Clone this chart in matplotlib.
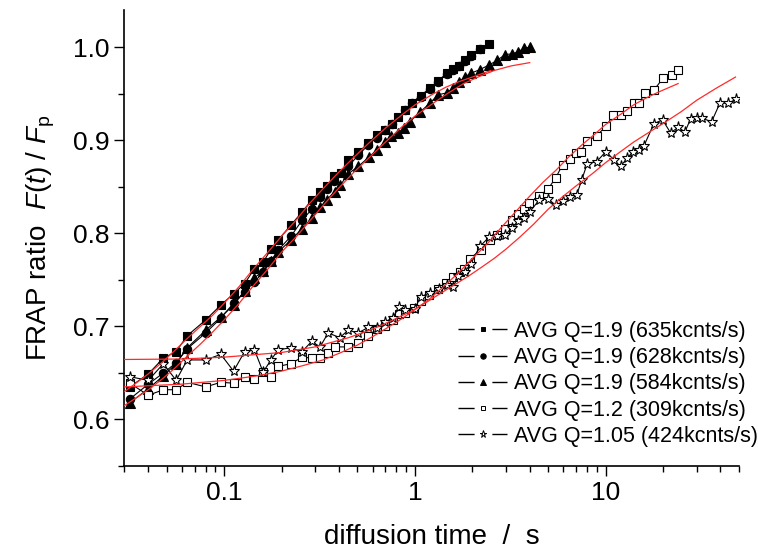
import matplotlib
matplotlib.use("Agg")
import matplotlib.pyplot as plt
from matplotlib.lines import Line2D
from matplotlib.ticker import FixedLocator, FixedFormatter, LogLocator, NullFormatter, MultipleLocator, FormatStrFormatter

plt.rcParams["font.family"] = ["Liberation Sans", "DejaVu Sans"]
plt.rcParams["mathtext.fontset"] = "custom"
plt.rcParams["mathtext.rm"] = "Liberation Sans"
plt.rcParams["mathtext.it"] = "Liberation Sans:italic"

# --- measured curves (diffusion time in s, FRAP ratio) ---
t_sq = [0.032, 0.040, 0.048, 0.056, 0.064, 0.080, 0.096, 0.112, 0.128, 0.144, 0.160, 0.176, 0.192,
        0.224, 0.256, 0.288, 0.318, 0.347, 0.376, 0.412, 0.447, 0.505, 0.569, 0.630, 0.696, 0.763,
        0.817, 0.886, 0.960, 1.071, 1.198, 1.325, 1.466, 1.588, 1.707, 1.829, 1.960, 2.192, 2.453]
f_sq = [0.635, 0.649, 0.666, 0.673, 0.690, 0.707, 0.723, 0.735, 0.746, 0.762, 0.769, 0.783, 0.793,
        0.809, 0.823, 0.836, 0.844, 0.851, 0.862, 0.865, 0.879, 0.887, 0.897, 0.906, 0.911, 0.918,
        0.925, 0.933, 0.940, 0.948, 0.956, 0.964, 0.972, 0.977, 0.980, 0.986, 0.992, 0.998, 1.004]

t_ci = [0.032, 0.040, 0.048, 0.056, 0.064, 0.080, 0.096, 0.112, 0.128, 0.144, 0.160, 0.176, 0.192,
        0.224, 0.256, 0.288, 0.318, 0.347, 0.376, 0.447, 0.505, 0.569, 0.630, 0.696, 0.763, 0.886,
        0.960, 1.071, 1.198, 1.325, 1.466, 1.588, 1.707, 1.829, 1.960, 2.192]
f_ci = [0.622, 0.638, 0.650, 0.661, 0.676, 0.693, 0.709, 0.725, 0.737, 0.748, 0.758, 0.770, 0.782,
        0.797, 0.814, 0.826, 0.839, 0.848, 0.856, 0.872, 0.884, 0.895, 0.903, 0.911, 0.918, 0.933,
        0.940, 0.947, 0.955, 0.963, 0.971, 0.976, 0.980, 0.985, 0.991, 0.998]

t_tr = [0.032, 0.040, 0.048, 0.056, 0.064, 0.080, 0.096, 0.112, 0.128, 0.144, 0.160, 0.176, 0.192,
        0.224, 0.256, 0.288, 0.318, 0.344, 0.381, 0.407, 0.447, 0.505, 0.574, 0.633, 0.696, 0.753,
        0.817, 0.877, 0.939, 1.060, 1.198, 1.325, 1.466, 1.588, 1.707, 1.829, 1.960, 2.190, 2.450,
        2.700, 2.965, 3.214, 3.480, 3.730, 4.010]
f_tr = [0.618, 0.633, 0.647, 0.660, 0.677, 0.696, 0.710, 0.723, 0.738, 0.752, 0.760, 0.770, 0.780,
        0.793, 0.805, 0.816, 0.828, 0.836, 0.845, 0.852, 0.864, 0.872, 0.882, 0.890, 0.898, 0.905,
        0.908, 0.913, 0.920, 0.930, 0.940, 0.949, 0.951, 0.956, 0.963, 0.968, 0.972, 0.976, 0.981,
        0.986, 0.992, 0.993, 0.995, 0.999, 1.000]

t_os = [0.032, 0.040, 0.048, 0.056, 0.064, 0.080, 0.096, 0.112, 0.128, 0.144, 0.160, 0.176, 0.192,
        0.224, 0.256, 0.288, 0.318, 0.351, 0.381, 0.447, 0.504, 0.569, 0.630, 0.696, 0.764, 0.828,
        0.886, 0.988, 1.071, 1.189, 1.325, 1.454, 1.588, 1.722, 1.807, 1.943, 2.211, 2.474, 2.682,
        2.965, 3.215, 3.481, 3.729, 3.976, 4.486, 5.000, 5.488, 5.951, 6.499, 6.987, 7.394, 8.009,
        8.971, 10.04, 10.96, 11.98, 12.98, 14.13, 15.01, 16.07, 17.92, 20.05, 22.19, 24.03]
f_os = [0.639, 0.626, 0.632, 0.632, 0.640, 0.635, 0.640, 0.639, 0.646, 0.644, 0.651, 0.646, 0.657,
        0.660, 0.667, 0.666, 0.666, 0.671, 0.678, 0.678, 0.682, 0.690, 0.697, 0.700, 0.707, 0.713,
        0.714, 0.720, 0.727, 0.734, 0.740, 0.747, 0.753, 0.759, 0.762, 0.773, 0.782, 0.793, 0.798,
        0.805, 0.814, 0.821, 0.826, 0.833, 0.840, 0.848, 0.860, 0.874, 0.880, 0.886, 0.888, 0.899,
        0.905, 0.915, 0.927, 0.927, 0.932, 0.940, 0.940, 0.951, 0.954, 0.967, 0.970, 0.976]

t_st = [0.032, 0.040, 0.048, 0.056, 0.064, 0.080, 0.096, 0.112, 0.128, 0.144, 0.160, 0.176, 0.192,
        0.224, 0.256, 0.288, 0.318, 0.351, 0.404, 0.447, 0.504, 0.569, 0.630, 0.696, 0.764, 0.828,
        0.886, 1.000, 1.071, 1.198, 1.340, 1.466, 1.588, 1.680, 1.829, 1.960, 2.190, 2.450, 2.700,
        2.965, 3.215, 3.481, 3.729, 4.000, 4.486, 5.000, 5.488, 6.006, 6.499, 7.046, 7.483, 8.009,
        8.971, 10.04, 11.05, 11.98, 12.98, 13.95, 15.01, 15.88, 17.92, 19.90, 21.92, 24.03, 26.05,
        27.90, 30.00, 31.87, 35.96, 39.75, 43.94, 48.24]
f_st = [0.646, 0.642, 0.660, 0.642, 0.664, 0.664, 0.670, 0.652, 0.673, 0.675, 0.651, 0.664, 0.675,
        0.677, 0.673, 0.684, 0.678, 0.693, 0.688, 0.696, 0.693, 0.699, 0.698, 0.705, 0.709, 0.721,
        0.718, 0.719, 0.732, 0.736, 0.740, 0.744, 0.742, 0.754, 0.759, 0.767, 0.786, 0.796, 0.797,
        0.798, 0.806, 0.813, 0.817, 0.823, 0.836, 0.837, 0.830, 0.835, 0.839, 0.841, 0.857, 0.875,
        0.877, 0.888, 0.879, 0.872, 0.881, 0.888, 0.890, 0.894, 0.918, 0.922, 0.908, 0.914, 0.909,
        0.923, 0.924, 0.924, 0.920, 0.940, 0.940, 0.944]

# --- fitted curves (red) ---
t_fit_a = [0.03, 0.035, 0.04, 0.047, 0.055, 0.064, 0.075, 0.087, 0.1, 0.12, 0.14, 0.17, 0.2, 0.24,
           0.28, 0.33, 0.4, 0.48, 0.58, 0.7, 0.85, 1.0, 1.25, 1.45, 1.7, 2.0, 2.5]
f_fit_a = [0.630, 0.640, 0.649, 0.661, 0.674, 0.687, 0.700, 0.712, 0.725, 0.743, 0.760, 0.780, 0.797,
           0.815, 0.832, 0.848, 0.866, 0.882, 0.898, 0.913, 0.927, 0.938, 0.950, 0.957, 0.963, 0.968,
           0.975]
t_fit_b = [0.03, 0.035, 0.04, 0.047, 0.055, 0.064, 0.075, 0.087, 0.1, 0.12, 0.14, 0.17, 0.2, 0.24,
           0.28, 0.33, 0.4, 0.48, 0.58, 0.7, 0.85, 1.0, 1.25, 1.5, 1.8, 2.2, 2.6, 3.2, 4.0]
f_fit_b = [0.615, 0.624, 0.632, 0.643, 0.655, 0.668, 0.681, 0.694, 0.707, 0.725, 0.742, 0.762, 0.780,
           0.797, 0.813, 0.830, 0.849, 0.866, 0.882, 0.898, 0.914, 0.926, 0.940, 0.951, 0.961, 0.969,
           0.975, 0.980, 0.9835]
t_fit_c = [0.03, 0.06, 0.1, 0.15, 0.2, 0.26, 0.33, 0.41, 0.5, 0.6, 0.71, 0.85, 1.0, 1.2, 1.4, 1.7,
           2.0, 2.4, 2.8, 3.4, 4.0, 4.7, 5.5, 6.4, 7.5, 8.7, 10, 12, 14, 16.5, 19, 24]
f_fit_c = [0.635, 0.638, 0.642, 0.647, 0.652, 0.658, 0.664, 0.672, 0.680, 0.689, 0.698, 0.708, 0.718,
           0.730, 0.742, 0.758, 0.773, 0.789, 0.805, 0.824, 0.840, 0.855, 0.868, 0.882, 0.895, 0.906,
           0.917, 0.928, 0.938, 0.946, 0.952, 0.961]
t_fit_d = [0.03, 0.06, 0.1, 0.2, 0.3, 0.45, 0.6, 0.75, 0.95, 1.15, 1.4, 1.65, 1.94, 2.25, 2.6, 3.0,
           3.55, 4.2, 5, 6, 7, 8.5, 10, 12, 14, 17, 20, 25, 30, 38, 48]
f_fit_d = [0.6645, 0.665, 0.667, 0.672, 0.678, 0.688, 0.697, 0.706, 0.716, 0.726, 0.737, 0.746, 0.755,
           0.764, 0.773, 0.783, 0.796, 0.810, 0.826, 0.840, 0.851, 0.864, 0.876, 0.888, 0.898, 0.909,
           0.918, 0.931, 0.943, 0.956, 0.968]

labels = ["AVG Q=1.9 (635kcnts/s)", "AVG Q=1.9 (628kcnts/s)", "AVG Q=1.9 (584kcnts/s)",
          "AVG Q=1.2 (309kcnts/s)", "AVG Q=1.05 (424kcnts/s)"]


def main() -> None:
    fig = plt.figure(figsize=(7.58, 5.5), dpi=100)
    ax = fig.add_axes([0.1642, 0.1527, 0.8106, 0.829])

    series = [
        (t_sq, f_sq, dict(marker="s", ms=5.5, mfc="k")),
        (t_ci, f_ci, dict(marker="o", ms=6, mfc="k")),
        (t_tr, f_tr, dict(marker="^", ms=6.5, mfc="k")),
        (t_os, f_os, dict(marker="s", ms=5.5, mfc="white")),
        (t_st, f_st, dict(marker="*", ms=8, mfc="white")),
    ]
    handles = []
    for (t, f, style), lab in zip(series, labels):
        ax.plot(t, f, color="k", lw=0.8, mec="k", mew=0.8, **style)
        leg_style = dict(style)
        leg_style["ms"] = style["ms"] * 0.65
        handles.append(Line2D([], [], color="k", lw=1.0, ls=(0, (11.6, 12.8, 11.6, 60)),
                              mec="k", mew=0.7, **leg_style))

    red = "#ff2a2a"
    for t, f in [(t_fit_a, f_fit_a), (t_fit_b, f_fit_b), (t_fit_c, f_fit_c), (t_fit_d, f_fit_d)]:
        ax.plot(t, f, color=red, lw=0.9, zorder=5)

    ax.set_xscale("log")
    ax.set_xlim(0.03, 50)
    ax.set_ylim(0.55, 1.04)

    ax.xaxis.set_major_locator(FixedLocator([0.1, 1, 10]))
    ax.xaxis.set_major_formatter(FixedFormatter(["0.1", "1", "10"]))
    ax.xaxis.set_minor_locator(LogLocator(base=10, subs=[2, 3, 4, 5, 6, 7, 8, 9]))
    ax.xaxis.set_minor_formatter(NullFormatter())
    ax.yaxis.set_major_locator(MultipleLocator(0.1))
    ax.yaxis.set_minor_locator(MultipleLocator(0.05))
    ax.yaxis.set_major_formatter(FormatStrFormatter("%.1f"))

    for side in ("top", "right"):
        ax.spines[side].set_visible(False)
    for side in ("left", "bottom"):
        ax.spines[side].set_linewidth(1.2)
    ax.tick_params(which="major", direction="out", length=7.5, width=1.0, labelsize=19, pad=3)
    ax.tick_params(which="minor", direction="out", length=4, width=1.0)

    ax.set_xlabel("diffusion time  /  s", fontsize=20, labelpad=14)
    ax.set_ylabel(r"FRAP ratio  $F(t)$ / $F_\mathrm{p}$", fontsize=20, labelpad=12)

    ax.legend(handles, labels, loc="upper left", bbox_to_anchor=(0.5428, 0.318),
              frameon=False, fontsize=15.5, handlelength=2.3, handletextpad=0.28,
              labelspacing=0.24, borderpad=0, borderaxespad=0, numpoints=1)

    fig.savefig("out.png", dpi=100)
    plt.close(fig)


if __name__ == "__main__":
    main()
